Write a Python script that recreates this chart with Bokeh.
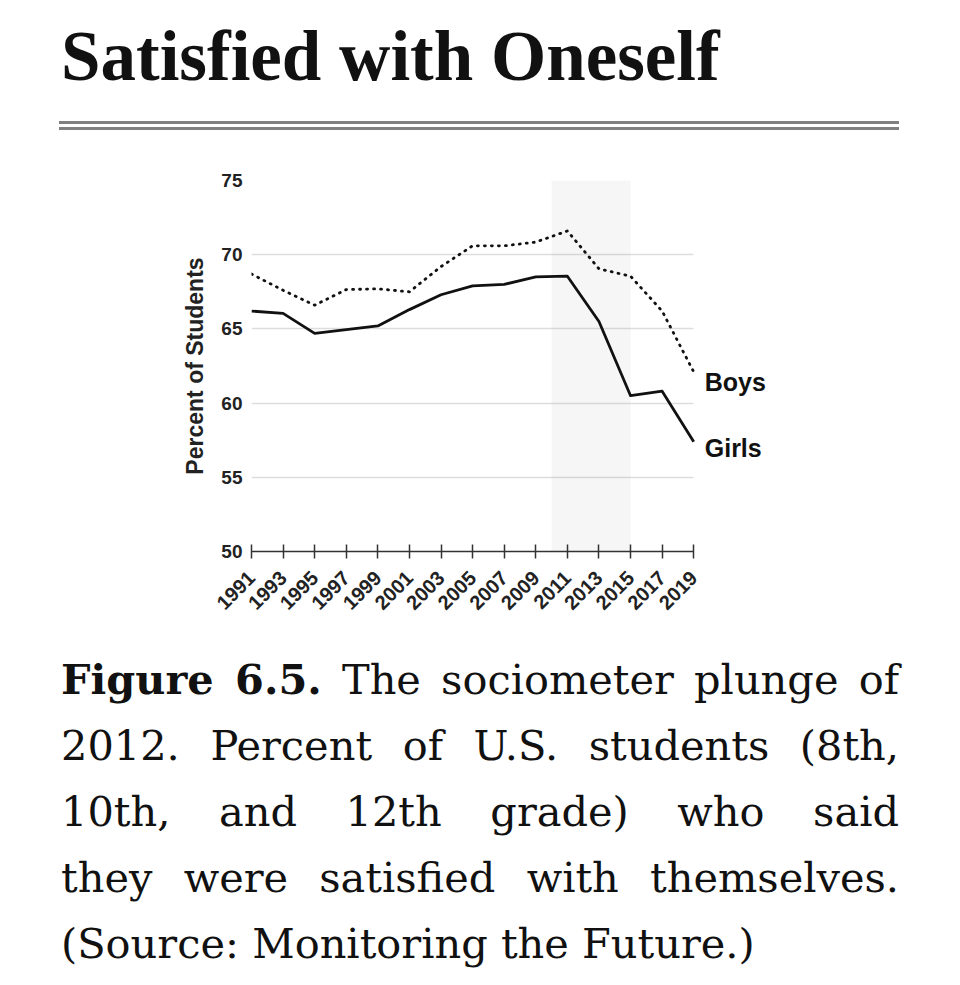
import math
from bokeh.plotting import figure
from bokeh.models import Range1d, FixedTicker, BoxAnnotation, Div
from bokeh.layouts import column
from bokeh.core.properties import value
from bokeh.embed import file_html
from bokeh.resources import INLINE

# ---------------- data ----------------
title_text = "Satisfied with Oneself"
y_axis_title = "Percent of Students"
years = [1991, 1993, 1995, 1997, 1999, 2001, 2003, 2005, 2007, 2009, 2011, 2013, 2015, 2017, 2019]
girls = [66.2, 66.05, 64.7, 64.95, 65.2, 66.3, 67.3, 67.9, 68.0, 68.5, 68.55, 65.5, 60.5, 60.8, 57.4]
boys = [68.7, 67.6, 66.6, 67.65, 67.7, 67.5, 69.2, 70.6, 70.6, 70.85, 71.6, 69.05, 68.55, 66.2, 62.1]
series_names = ["Boys", "Girls"]
y_ticks = [50, 55, 60, 65, 70, 75]
shade_years = [2010, 2015]
x_pad_years = 6  # empty room right of the last year for the series labels
caption_label = "Figure 6.5."
caption_lines = [
    "The sociometer plunge of",
    "2012. Percent of U.S. students (8th,",
    "10th, and 12th grade) who said",
    "they were satisfied with themselves.",
    "(Source: Monitoring the Future.)",
]

INK = "#111111"

# ---------------- title block ----------------
title_html = (
    '<div style="position:relative;width:944px;height:132px;">'
    '<div style="position:absolute;left:56px;top:16px;font-family:\'Liberation Serif\';'
    'font-weight:bold;font-size:71px;line-height:71px;color:#111;white-space:nowrap;">'
    f'{title_text}</div>'
    '<div style="position:absolute;left:54px;top:116px;width:840px;height:3px;box-sizing:content-box;'
    'border-top:3px solid #808080;border-bottom:3px solid #808080;"></div>'
    '</div>'
)
title_div = Div(text=title_html, width=944, height=132)

# ---------------- chart ----------------
p = figure(width=944, height=500,
           x_range=Range1d(years[0], years[-1] + x_pad_years),
           y_range=Range1d(y_ticks[0], y_ticks[-1]),
           output_backend="svg", toolbar_location=None,
           min_border_left=251, min_border_right=156, min_border_top=38, min_border_bottom=91)
p.outline_line_color = None
p.background_fill_color = "white"
p.border_fill_color = "white"

p.xgrid.visible = False
yg = p.ygrid[0]
yg.ticker = FixedTicker(ticks=y_ticks)
yg.grid_line_color = "#dddddd"
yg.grid_line_width = 1.3
if "cross_bounds" in yg.properties():
    yg.cross_bounds = (years[0], years[-1])
else:
    yg.visible = False
    r = p.segment(x0=[years[0]] * (len(y_ticks) - 1), x1=[years[-1]] * (len(y_ticks) - 1),
                  y0=y_ticks[1:], y1=y_ticks[1:], line_color="#dddddd", line_width=1.3)
    r.level = "underlay"

band = BoxAnnotation(left=shade_years[0], right=shade_years[1],
                     fill_color="#888888", fill_alpha=0.08, line_color=None, level="underlay")
p.add_layout(band)

p.line(years, girls, line_color=INK, line_width=2.8, line_join="round")
p.line(years, boys, line_color=INK, line_width=2.8, line_dash="1 6", line_cap="round")

p.text(x=[years[-1], years[-1]], y=[boys[-1], girls[-1]], text=series_names,
       x_offset=11, y_offset=[10, 6], text_baseline="middle", text_align="left",
       text_font=value("Liberation Sans"), text_font_style="bold",
       text_font_size="25px", text_color=INK)

xa = p.xaxis[0]
xa.bounds = (years[0], years[-1])
xa.ticker = FixedTicker(ticks=years)
xa.major_label_orientation = math.pi / 4
xa.axis_line_color = "#333333"
xa.axis_line_width = 1.5
xa.major_tick_line_color = "#333333"
xa.major_tick_line_width = 1.5
xa.major_tick_in = 7
xa.major_tick_out = 7
xa.minor_tick_line_color = None
xa.major_label_text_font = "Liberation Sans"
xa.major_label_text_font_style = "bold"
xa.major_label_text_font_size = "20px"
xa.major_label_text_color = "#222222"
xa.major_label_standoff = 16

ya = p.yaxis[0]
ya.ticker = FixedTicker(ticks=y_ticks)
ya.axis_line_color = None
ya.major_tick_line_color = None
ya.minor_tick_line_color = None
ya.major_tick_in = 0
ya.major_tick_out = 0
ya.major_label_text_font = "Liberation Sans"
ya.major_label_text_font_style = "bold"
ya.major_label_text_font_size = "19px"
ya.major_label_text_color = "#222222"
ya.major_label_standoff = 9
ya.axis_label = y_axis_title
ya.axis_label_text_font = "Liberation Sans"
ya.axis_label_text_font_style = "bold"
ya.axis_label_text_font_size = "23px"
ya.axis_label_text_color = "#222222"
ya.axis_label_standoff = 10

# ---------------- caption ----------------
rows = []
for i, line in enumerate(caption_lines):
    if i == 0:
        line = f'<b>{caption_label}</b> {line}'
    last = i == len(caption_lines) - 1
    align = "text-align:left;" if last else "text-align:justify;text-align-last:justify;"
    rows.append(f'<div style="{align}">{line}</div>')
caption_html = (
    '<div style="position:relative;width:944px;height:330px;">'
    '<div style="position:absolute;left:56px;top:0px;width:838px;font-family:\'DejaVu Serif\';'
    'font-size:41.5px;line-height:66px;color:#111;">'
    + "".join(rows) +
    '</div></div>'
)
caption_div = Div(text=caption_html, width=944, height=330)

layout = column(title_div, p, caption_div, spacing=0)

with open("out.html", "w") as f:
    f.write(file_html(layout, INLINE))
